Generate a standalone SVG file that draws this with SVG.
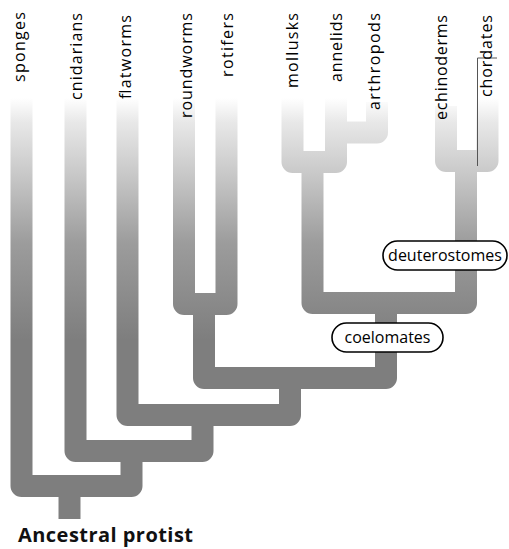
<svg xmlns="http://www.w3.org/2000/svg" width="509" height="549" viewBox="0 0 509 549">
<defs>
<linearGradient id="fade" gradientUnits="userSpaceOnUse" x1="0" y1="98" x2="0" y2="340">
<stop offset="0" stop-color="#ffffff"/>
<stop offset="0.1" stop-color="#e8e8e8"/>
<stop offset="0.33" stop-color="#c6c6c6"/>
<stop offset="0.6" stop-color="#9c9c9c"/>
<stop offset="1" stop-color="#7e7e7e"/>
</linearGradient>
<style>
.br{fill:none;stroke:url(#fade);stroke-width:22;stroke-linejoin:round;stroke-linecap:butt}
.lbl{font-family:"Open Sans","Liberation Sans",sans-serif;font-size:16px;fill:#000}
.pill{fill:#fff;stroke:#000;stroke-width:1.6}
.ptxt{font-family:"Open Sans","Liberation Sans",sans-serif;font-size:16px;fill:#000;text-anchor:middle}
.root{font-family:"Open Sans","Liberation Sans",sans-serif;font-size:20px;font-weight:bold;fill:#111}
</style>
</defs>
<g id="connectors">
<path class="br" d="M21.5 98 V486 H131.5 V451"/>
<path class="br" d="M69.5 486 V519"/>
<path class="br" d="M75.5 98 V451 H202.5 V415"/>
<path class="br" d="M127.5 98 V415 H290 V378"/>
<path class="br" d="M184 98 V304 H226.5 V98"/>
<path class="br" d="M204 304 V378 H386 V303"/>
<path class="br" d="M312.5 162 V303 H466 V161"/>
<path class="br" d="M292.5 98 V162 H336 V98"/>
<path class="br" d="M336 132.5 H377 V102"/>
<path class="br" d="M446 106 V161 H487.5 V98"/>
<path d="M477.5 58 V166 M477.5 58 H497" fill="none" stroke="#555" stroke-width="1"/>
</g>
<g id="sponges"><text class="lbl" transform="translate(25,82) rotate(-90)" textLength="70" lengthAdjust="spacing">sponges</text></g>
<g id="cnidarians"><text class="lbl" transform="translate(82,100) rotate(-90)" textLength="87" lengthAdjust="spacing">cnidarians</text></g>
<g id="flatworms"><text class="lbl" transform="translate(131,99) rotate(-90)" textLength="84" lengthAdjust="spacing">flatworms</text></g>
<g id="roundworms"><text class="lbl" transform="translate(192,118) rotate(-90)" textLength="105" lengthAdjust="spacing">roundworms</text></g>
<g id="rotifers"><text class="lbl" transform="translate(233,77) rotate(-90)" textLength="64" lengthAdjust="spacing">rotifers</text></g>
<g id="mollusks"><text class="lbl" transform="translate(298,88) rotate(-90)" textLength="75" lengthAdjust="spacing">mollusks</text></g>
<g id="annelids"><text class="lbl" transform="translate(342,82) rotate(-90)" textLength="69" lengthAdjust="spacing">annelids</text></g>
<g id="arthropods"><text class="lbl" transform="translate(380,110) rotate(-90)" textLength="97" lengthAdjust="spacing">arthropods</text></g>
<g id="echinoderms"><text class="lbl" transform="translate(447,120) rotate(-90)" textLength="105" lengthAdjust="spacing">echinoderms</text></g>
<g id="chordates"><text class="lbl" transform="translate(492,97) rotate(-90)" textLength="82" lengthAdjust="spacing">chordates</text></g>
<g id="deuterostomes"><rect class="pill" x="383" y="241" width="124" height="29" rx="14.5"/><text class="ptxt" x="445" y="261">deuterostomes</text></g>
<g id="coelomates"><rect class="pill" x="332" y="323" width="111" height="29" rx="14.5"/><text class="ptxt" x="387.5" y="343">coelomates</text></g>
<g id="ancestral"><text class="root" x="18" y="542" textLength="175" lengthAdjust="spacing">Ancestral protist</text></g>
</svg>
